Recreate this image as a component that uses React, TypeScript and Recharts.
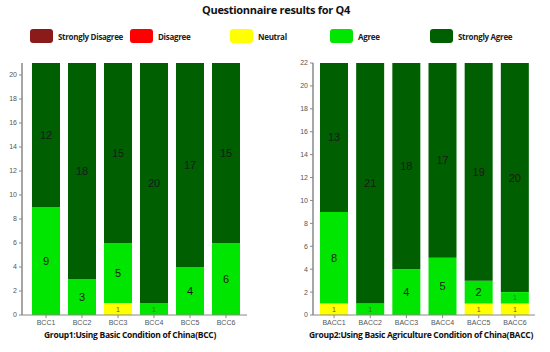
import React from 'react';
import { BarChart, Bar, XAxis, YAxis, LabelList } from 'recharts';

const group1Items = ['BCC1', 'BCC2', 'BCC3', 'BCC4', 'BCC5', 'BCC6'];
const group1StronglyDisagree = [0, 0, 0, 0, 0, 0];
const group1Disagree = [0, 0, 0, 0, 0, 0];
const group1Neutral = [0, 0, 1, 0, 0, 0];
const group1Agree = [9, 3, 5, 1, 4, 6];
const group1StronglyAgree = [12, 18, 15, 20, 17, 15];
const group1Ticks = [0, 2, 4, 6, 8, 10, 12, 14, 16, 18, 20];

const group2Items = ['BACC1', 'BACC2', 'BACC3', 'BACC4', 'BACC5', 'BACC6'];
const group2StronglyDisagree = [0, 0, 0, 0, 0, 0];
const group2Disagree = [0, 0, 0, 0, 0, 0];
const group2Neutral = [1, 0, 0, 0, 1, 1];
const group2Agree = [8, 1, 4, 5, 2, 1];
const group2StronglyAgree = [13, 21, 18, 17, 19, 20];
const group2Ticks = [0, 2, 4, 6, 8, 10, 12, 14, 16, 18, 20, 22];

const levels = ['Strongly Disagree', 'Disagree', 'Neutral', 'Agree', 'Strongly Agree'];
const COLORS = ['#8b1a1a', '#ff0000', '#ffff00', '#00e600', '#005f00'];
const KEYS = ['sd', 'd', 'n', 'a', 'sa'];

const buildRows = (items: string[], sd: number[], d: number[], n: number[], a: number[], sa: number[]) =>
  items.map((name, i) => ({ name, sd: sd[i], d: d[i], n: n[i], a: a[i], sa: sa[i] }));

const group1Data = buildRows(group1Items, group1StronglyDisagree, group1Disagree, group1Neutral, group1Agree, group1StronglyAgree);
const group2Data = buildRows(group2Items, group2StronglyDisagree, group2Disagree, group2Neutral, group2Agree, group2StronglyAgree);

const titleFont = "'Open Sans', 'Noto Sans', sans-serif";

const renderLabel = (props: any) => {
  const { x, y, width, height, value } = props;
  if (!value) return null;
  const small = value === 1;
  return (
    <text
      x={x + width / 2}
      y={y + height / 2}
      textAnchor="middle"
      dominantBaseline="central"
      fontSize={small ? 7 : 11}
      fill={small ? '#555' : '#1a1a1a'}
      fontFamily="'Liberation Sans', Arial, sans-serif"
    >
      {value}
    </text>
  );
};

const tickStyle = { fill: '#555', fontSize: 7, fontFamily: "'Liberation Sans', Arial, sans-serif" };

const GroupChart = ({ data, ticks, max, yWidth, width, padding }: any) => (
  <BarChart width={width} height={280} data={data} margin={{ top: 13, right: 3, left: 0, bottom: 0 }} barSize={28}>
    <XAxis
      dataKey="name"
      tick={tickStyle}
      axisLine={{ stroke: '#888' }}
      tickLine={{ stroke: '#888' }}
      tickSize={3}
      height={15}
      padding={padding}
      interval={0}
    />
    <YAxis
      domain={[0, max]}
      ticks={ticks}
      tick={tickStyle}
      axisLine={{ stroke: '#888', strokeWidth: 1.5 }}
      tickLine={{ stroke: '#888' }}
      tickSize={3}
      width={yWidth}
      allowDataOverflow
    />
    {KEYS.map((k, i) => (
      <Bar key={k} dataKey={k} stackId="s" fill={COLORS[i]} isAnimationActive={false}>
        <LabelList dataKey={k} content={renderLabel} />
      </Bar>
    ))}
  </BarChart>
);

export default function App() {
  return (
    <div style={{ position: 'absolute', top: 0, left: 0, width: 550, height: 352, background: '#fff', overflow: 'hidden' }}>
      <div style={{ position: 'absolute', top: 2, left: 0, width: 552, textAlign: 'center', fontFamily: titleFont, fontWeight: 700, fontSize: 11, letterSpacing: -0.3, lineHeight: '16px', color: '#111' }}>
        Questionnaire results for Q4
      </div>
      {levels.map((lv, i) => (
        <div key={lv} style={{ position: 'absolute', top: 29, left: 30 + i * 100, height: 14, display: 'flex', alignItems: 'center' }}>
          <div style={{ width: 23, height: 14, borderRadius: 3, background: COLORS[i] }} />
          <span style={{ marginLeft: 5, fontFamily: titleFont, fontWeight: 700, fontSize: 8, letterSpacing: -0.3, color: '#222' }}>{lv}</span>
        </div>
      ))}
      <div style={{ position: 'absolute', top: 50, left: 0 }}>
        <GroupChart data={group1Data} ticks={group1Ticks} max={21} yWidth={22} width={250} padding={{ left: 6, right: 3 }} />
      </div>
      <div style={{ position: 'absolute', top: 50, left: 290 }}>
        <GroupChart data={group2Data} ticks={group2Ticks} max={22} yWidth={23} width={248} padding={{ left: 3, right: 2 }} />
      </div>
      <div style={{ position: 'absolute', top: 329, left: 0, width: 260, textAlign: 'center', fontFamily: titleFont, fontWeight: 700, fontSize: 8.5, letterSpacing: -0.3, lineHeight: '12px', color: '#111' }}>
        Group1:Using Basic Condition of China(BCC)
      </div>
      <div style={{ position: 'absolute', top: 329, left: 290, width: 262, textAlign: 'center', fontFamily: titleFont, fontWeight: 700, fontSize: 8.5, letterSpacing: -0.3, lineHeight: '12px', color: '#111' }}>
        Group2:Using Basic Agriculture Condition of China(BACC)
      </div>
    </div>
  );
}
